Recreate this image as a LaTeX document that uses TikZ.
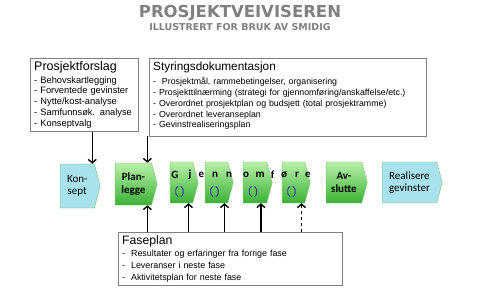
\documentclass[tikz,border=0pt]{standalone}
\usepackage{fontspec}
\setmainfont{Liberation Sans}
\newfontfamily\calibrifont{Carlito}
\newfontfamily\titlefont{DejaVu Sans}
\usetikzlibrary{arrows.meta,calc,positioning,shapes.symbols}
\definecolor{PhaseTop}{RGB}{184,240,170}
\definecolor{PhaseBottom}{RGB}{58,178,52}
\definecolor{PhaseBlue}{RGB}{168,226,236}
\definecolor{PhaseEdge}{RGB}{118,196,108}
\definecolor{BoxGrey}{RGB}{128,128,128}
\definecolor{LoopBlue}{RGB}{62,40,190}

\begin{document}
\begin{tikzpicture}[x=1pt, y=-1pt,
    phase/.style={signal, signal to=east, signal pointer angle=150, draw=PhaseEdge,
        anchor=west, inner sep=0pt, minimum height=41pt, align=center,
        font=\calibrifont\fontsize{11}{12.7}\selectfont},
    bluephase/.style={phase, fill=PhaseBlue},
    greenphase/.style={phase, top color=PhaseTop, bottom color=PhaseBottom, font=\calibrifont\bfseries\fontsize{11}{12.7}\selectfont},
    infobox/.style={draw=BoxGrey, anchor=north west, align=left, inner xsep=4pt, inner ysep=3.5pt},
    arr/.style={-{Straight Barb[length=3.5pt,width=8pt]}, line width=1.4pt},
    loopmark/.style={LoopBlue, line width=0.9pt}]
    \useasboundingbox (0,0) rectangle (480,289);
    % Title
    \node[font=\titlefont\bfseries\fontsize{16.5}{18}\selectfont, text=BoxGrey] (title) at (240,13) {PROSJEKTVEIVISEREN};
    \node[font=\titlefont\bfseries\fontsize{9.5}{11}\selectfont, text=BoxGrey] (subtitle) at (240,27.5) {ILLUSTRERT FOR BRUK AV SMIDIG};
    % Phases
    \node[bluephase, minimum width=40pt, minimum height=44pt] (konsept) at (60,186) {Kon-\\sept};
    \node[greenphase, minimum width=42pt, minimum height=42pt] (plan) at (115,184) {Plan-\\legge};
    \node[greenphase, minimum width=28pt] (gj) at (170,182.5) {};
    \node[greenphase, minimum width=28pt] (nn) at (205,182.5) {};
    \node[greenphase, minimum width=29pt] (om) at (243,182.5) {};
    \node[greenphase, minimum width=28pt] (fr) at (282,182.5) {};
    \node[greenphase, minimum width=41pt] (avslutte) at (326,182.5) {Av-\\slutte};
    \node[bluephase, minimum width=60pt] (realisere) at (382,182.5) {Realisere\\gevinster};
    % Letters across the execution phases
    \foreach \ch/\xx [count=\i] in {G/175,j/190,e/201.5,n/215,n/229,o/246,m/260,f/272.5,ø/284,r/297,e/308}
        \node[font=\calibrifont\bfseries\fontsize{11}{12}\selectfont, inner sep=0pt] (letter\i) at (\xx,175) {\ch};
    % Iteration marks
    \foreach \c in {gj,nn,om,fr} {
        \draw[loopmark] ($(\c.center)+(-2,9)$) ++(110:4 and 5.5) arc[start angle=110, end angle=250, x radius=4, y radius=5.5];
        \draw[loopmark] ($(\c.center)+(-2,9)$) ++(-70:4 and 5.5) arc[start angle=-70, end angle=70, x radius=4, y radius=5.5];
    }
    % Boxes
    \node[infobox, text width=100pt, font=\fontsize{9.3}{10.8}\selectfont] (forslag) at (30,58)
        {{\fontsize{12.5}{14}\selectfont Prosjektforslag}\\[1.5pt]
         - Behovskartlegging\\
         - Forventede gevinster\\
         - Nytte/kost-analyse\\
         - Samfunnsøk. analyse\\
         - Konseptvalg};
    \node[infobox, text width=269pt, font=\fontsize{8.8}{10.7}\selectfont] (styring) at (149,58)
        {{\fontsize{11.8}{14}\selectfont Styringsdokumentasjon}\\[4pt]
         -~ Prosjektmål, rammebetingelser, organisering\\
         - Prosjekttilnærming (strategi for gjennomføring/anskaffelse/etc.)\\
         - Overordnet prosjektplan og budsjett (total prosjektramme)\\
         - Overordnet leveranseplan\\
         - Gevinstrealiseringsplan\\[-6pt]\mbox{}};
    \node[infobox, text width=216pt, font=\fontsize{8.9}{11.7}\selectfont] (fase) at (118,232)
        {{\fontsize{12.2}{13}\selectfont Faseplan}\\[0.5pt]
         -~ Resultater og erfaringer fra forrige fase\\
         -~ Leveranser i neste fase\\
         -~ Aktivitetsplan for neste fase};
    % Arrows
    \draw[arr] ([xshift=15pt]konsept.north |- forslag.south) -- ([xshift=15pt]konsept.north);
    \draw[arr] ([xshift=14pt]plan.north |- styring.south) -- ([xshift=14pt]plan.north);
    \draw[arr] ([xshift=14pt]plan.south |- fase.north) -- ([xshift=14pt]plan.south);
    \draw[arr] ([xshift=7pt]gj.south |- fase.north) -- ([xshift=7pt]gj.south);
    \draw[arr] ([xshift=8pt]nn.south |- fase.north) -- ([xshift=8pt]nn.south);
    \draw[arr] ([xshift=6pt]om.south |- fase.north) -- ([xshift=6pt]om.south);
    \draw[arr, dashed] ([xshift=8pt]fr.south |- fase.north) -- ([xshift=8pt]fr.south);
\end{tikzpicture}
\end{document}
